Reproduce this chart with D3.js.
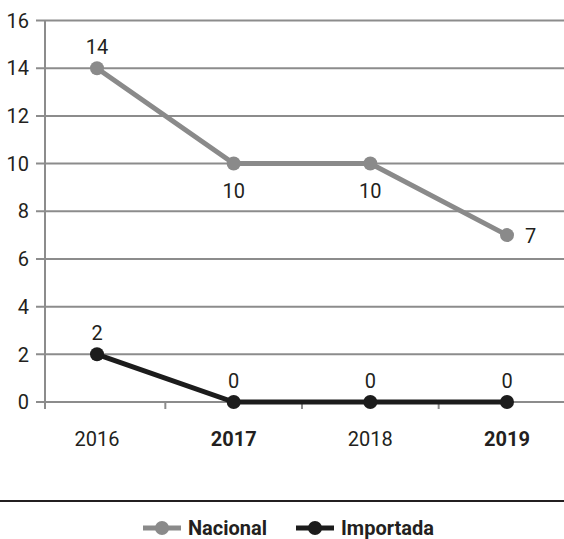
<!DOCTYPE html>
<html>
<head>
<meta charset="utf-8">
<script src="https://cdn.jsdelivr.net/npm/d3@7"></script>
<style>
  body { margin: 0; background: #fff; }
  svg { display: block; font-family: Roboto, "DejaVu Sans", sans-serif; }
</style>
</head>
<body>
<div id="chart"></div>
<script>
// Data
const years = ["2016", "2017", "2018", "2019"];
const boldYears = ["2017", "2019"];
const nacional = [14, 10, 10, 7];
const importada = [2, 0, 0, 0];
const yTicks = [0, 2, 4, 6, 8, 10, 12, 14, 16];

const width = 564, height = 539;

// label placement for each point: "above", "below", "right"
const nacionalLabelPos = ["above", "below", "below", "right"];
const importadaLabelPos = ["above", "above", "above", "above"];

const series = [
  { name: "Nacional", values: nacional, color: "#8a8a8a", labelPos: nacionalLabelPos },
  { name: "Importada", values: importada, color: "#1c1c1c", labelPos: importadaLabelPos }
];

const axisX = 45;
const xScale = d3.scalePoint().domain(years).range([97, 507]);
const yScale = d3.scaleLinear().domain([0, 16]).range([402, 20.5]);

const svg = d3.select("#chart").append("svg")
  .attr("width", width)
  .attr("height", height);

// Horizontal grid lines with short left ticks
svg.append("g")
  .selectAll("line")
  .data(yTicks)
  .enter()
  .append("line")
  .attr("x1", 36)
  .attr("x2", width)
  .attr("y1", d => yScale(d))
  .attr("y2", d => yScale(d))
  .attr("stroke", "#8c8c8c")
  .attr("stroke-width", 2);

// Y axis line
svg.append("line")
  .attr("x1", axisX).attr("x2", axisX)
  .attr("y1", yScale(16)).attr("y2", yScale(0) + 7)
  .attr("stroke", "#8c8c8c")
  .attr("stroke-width", 2);

// Category separator ticks on x axis
const step = xScale.step();
svg.append("g")
  .selectAll("line")
  .data(years.slice(1))
  .enter()
  .append("line")
  .attr("x1", d => xScale(d) - step / 2)
  .attr("x2", d => xScale(d) - step / 2)
  .attr("y1", yScale(0))
  .attr("y2", yScale(0) + 7)
  .attr("stroke", "#8c8c8c")
  .attr("stroke-width", 2);

// Y tick labels
svg.append("g")
  .selectAll("text")
  .data(yTicks)
  .enter()
  .append("text")
  .attr("x", 29)
  .attr("y", d => yScale(d))
  .attr("dy", "0.36em")
  .attr("text-anchor", "end")
  .attr("font-size", 20)
  .attr("fill", "#231f20")
  .text(d => d);

// X labels
svg.append("g")
  .selectAll("text")
  .data(years)
  .enter()
  .append("text")
  .attr("x", d => xScale(d))
  .attr("y", 446)
  .attr("text-anchor", "middle")
  .attr("font-size", 20)
  .attr("font-weight", d => boldYears.includes(d) ? "bold" : "normal")
  .attr("fill", "#231f20")
  .text(d => d);

// Lines, dots and value labels
const line = d3.line()
  .x((d, i) => xScale(years[i]))
  .y(d => yScale(d));

series.forEach(s => {
  svg.append("path")
    .datum(s.values)
    .attr("d", line)
    .attr("fill", "none")
    .attr("stroke", s.color)
    .attr("stroke-width", 5);

  svg.append("g")
    .selectAll("circle")
    .data(s.values)
    .enter()
    .append("circle")
    .attr("cx", (d, i) => xScale(years[i]))
    .attr("cy", d => yScale(d))
    .attr("r", 7)
    .attr("fill", s.color);

  svg.append("g")
    .selectAll("text")
    .data(s.values)
    .enter()
    .append("text")
    .attr("x", (d, i) => xScale(years[i]) + (s.labelPos[i] === "right" ? 18 : 0))
    .attr("y", (d, i) => {
      const y = yScale(d);
      if (s.labelPos[i] === "above") return y - 14;
      if (s.labelPos[i] === "below") return y + 34;
      return y + 8;
    })
    .attr("text-anchor", (d, i) => s.labelPos[i] === "right" ? "start" : "middle")
    .attr("font-size", 20)
    .attr("fill", "#231f20")
    .text(d => d);
});

// Separator above legend
svg.append("line")
  .attr("x1", 0).attr("x2", width)
  .attr("y1", 501).attr("y2", 501)
  .attr("stroke", "#231f20")
  .attr("stroke-width", 2);

// Legend
const legendX = [143, 296];
const legend = svg.append("g")
  .selectAll("g")
  .data(series)
  .enter()
  .append("g")
  .attr("transform", (d, i) => `translate(${legendX[i]}, 528)`);

legend.append("line")
  .attr("x1", 0).attr("x2", 38)
  .attr("stroke", d => d.color)
  .attr("stroke-width", 5);

legend.append("circle")
  .attr("cx", 19)
  .attr("r", 7)
  .attr("fill", d => d.color);

legend.append("text")
  .attr("x", 45)
  .attr("y", 7)
  .attr("font-size", 20)
  .attr("font-weight", "bold")
  .attr("fill", "#231f20")
  .text(d => d.name);
</script>
</body>
</html>
